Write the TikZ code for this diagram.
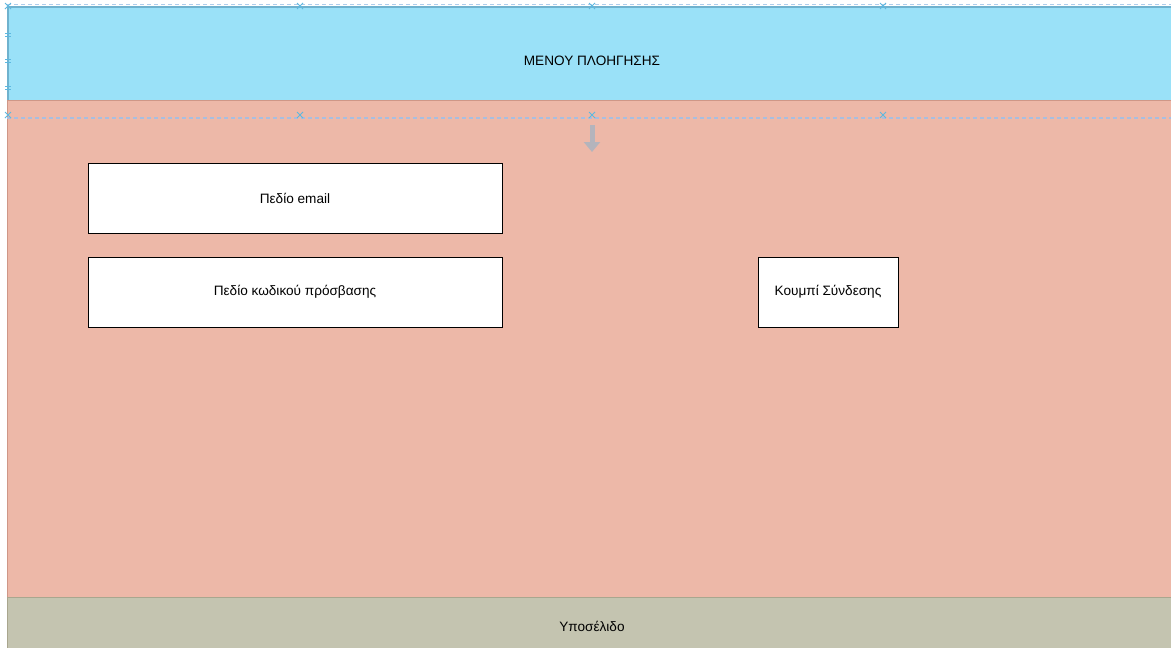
\documentclass[tikz,border=0pt]{standalone}
\usepackage{fontspec}
\setmainfont{Liberation Sans}
\usetikzlibrary{arrows.meta}
\definecolor{navblue}{HTML}{9AE1F8}
\definecolor{navedge}{HTML}{6FB2CE}
\definecolor{mainsalmon}{HTML}{EDB8A8}
\definecolor{mainedge}{HTML}{CF9787}
\definecolor{footgray}{HTML}{C4C4B0}
\definecolor{footedge}{HTML}{A9A68E}
\definecolor{guide}{HTML}{AFCDEB}
\definecolor{guidelow}{HTML}{A8BEE0}
\definecolor{guidemark}{HTML}{5DB8E0}
\definecolor{flowgray}{HTML}{B4B4BC}
\tikzset{
  band/.style={inner sep=0pt, font=\fontsize{13.6}{16}\selectfont, text=black},
  fieldbox/.style={draw=black, line width=0.9pt, fill=white, inner sep=0pt,
    minimum height=70pt, font=\fontsize{13.6}{16}\selectfont},
  guideline/.style={dash pattern=on 4pt off 3pt, line width=1.2pt},
  xmark/.style={draw=guidemark, line width=0.9pt},
}
\newcommand{\xmk}[2]{\draw[xmark] (#1-3,#2-3) -- (#1+3,#2+3) (#1-3,#2+3) -- (#1+3,#2-3);}
\begin{document}
\begin{tikzpicture}[x=1pt,y=-1pt]
\useasboundingbox (0,0) rectangle (1171,648);
\fill[white] (0,0) rectangle (1171,648);
% page regions
\fill[navblue] (7,6) rectangle (1171,100);
\fill[mainsalmon] (7,100) rectangle (1171,597);
\fill[footgray] (7,597) rectangle (1171,648);
\draw[navedge, line width=2pt] (1171,7) -- (8,7) -- (8,100);
\draw[mainedge, line width=1.2pt] (1171,100.5) -- (7.5,100.5) -- (7.5,597);
\draw[footedge, line width=1.2pt] (1171,597.5) -- (7.5,597.5) -- (7.5,648);
\node[band] (nav) at (592,61) {ΜΕΝΟΥ ΠΛΟΗΓΗΣΗΣ};
\node[band] (footer) at (592,626) {Υποσέλιδο};
% layout guides
\draw[guideline, guide] (7,4.5) -- (1171,4.5);
\draw[guideline, guidelow, line width=2pt] (7,117.5) -- (1171,117.5);
\foreach \gx in {8,300,592,883} {\xmk{\gx}{6}\xmk{\gx}{115}}
\foreach \gy in {35,61,88} {\draw[xmark] (5,\gy-1.5) -- (11,\gy-1.5) (5,\gy+1.5) -- (11,\gy+1.5);}
% flow arrow
\coordinate (flowtop) at (592,125);
\coordinate (flowend) at (592,152);
\draw[flowgray, line width=5pt, -{Triangle[width=16pt,length=10pt]}] (flowtop) -- (flowend);
% form elements
\node[fieldbox, minimum width=414pt] (email) at (295,198) {Πεδίο email};
\node[fieldbox, minimum width=414pt] (pass) at (295,292) {Πεδίο κωδικού πρόσβασης};
\node[fieldbox, minimum width=140pt] (login) at (828,292) {Κουμπί Σύνδεσης};
\end{tikzpicture}
\end{document}
